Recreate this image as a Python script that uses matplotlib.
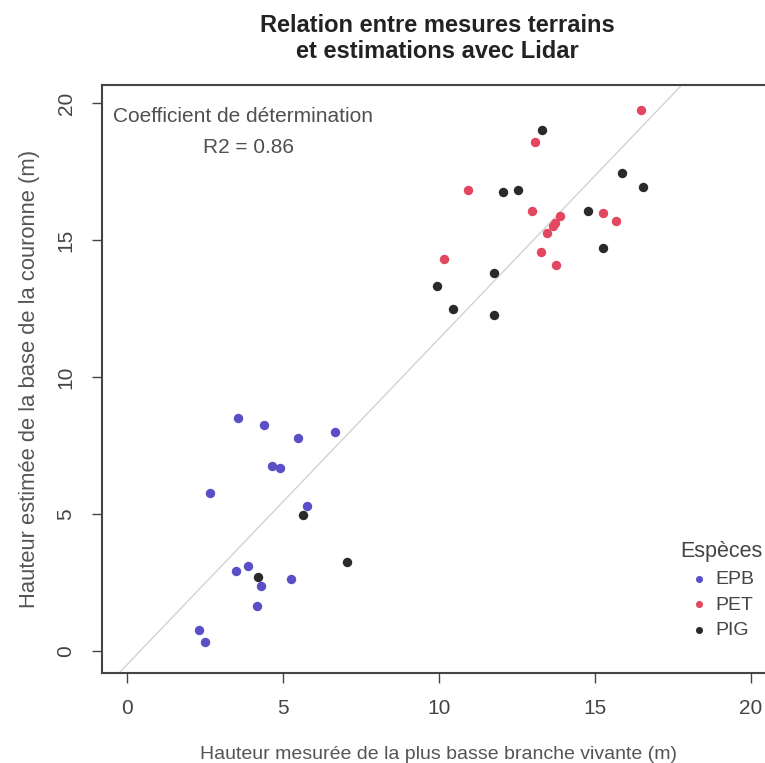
import matplotlib
matplotlib.use("Agg")
import matplotlib.pyplot as plt

plt.rcParams["font.family"] = ["Liberation Sans", "DejaVu Sans"]

# measured (x) vs lidar-estimated (y) crown base height, by species
epb_x = [3.56, 4.40, 5.47, 6.67, 4.64, 4.90, 2.65, 5.78, 3.89, 3.48, 4.29, 5.26, 4.16, 2.31, 2.49]
epb_y = [8.49, 8.26, 7.78, 7.98, 6.75, 6.67, 5.78, 5.30, 3.10, 2.92, 2.38, 2.63, 1.63, 0.76, 0.32]

pet_x = [16.46, 13.08, 10.93, 12.98, 15.25, 15.68, 13.88, 13.71, 13.66, 13.47, 13.27, 13.74, 10.17]
pet_y = [19.76, 18.59, 16.81, 16.07, 16.00, 15.70, 15.89, 15.61, 15.51, 15.24, 14.55, 14.08, 14.30]

pig_x = [5.63, 7.05, 4.20, 13.29, 15.86, 16.55, 12.06, 12.53, 14.77, 15.27, 11.77, 9.93, 10.44, 11.77]
pig_y = [4.96, 3.25, 2.69, 19.03, 17.43, 16.93, 16.74, 16.84, 16.05, 14.70, 13.81, 13.32, 12.48, 12.25]

# fitted line
fit_intercept = -0.5
fit_slope = 1.19
r2 = 0.86

species = ["EPB", "PET", "PIG"]
colors = ["#5a4fc6", "#e2475f", "#2a2a2a"]

fig = plt.figure(figsize=(7.65, 7.63), dpi=100)
ax = fig.add_axes([0.1333, 0.118, 0.881, 0.7706])

for name, xs, ys, c in zip(species, [epb_x, pet_x, pig_x], [epb_y, pet_y, pig_y], colors):
    ax.scatter(xs, ys, s=46, color=c, label=name, linewidths=0, zorder=3)

ax.axline((0, fit_intercept), slope=fit_slope, color="#d2d2d2", lw=1.0, zorder=2)

ax.set_xlim(-0.8, 20.8)
ax.set_ylim(-0.8, 20.66)
ax.set_xticks([0, 5, 10, 15, 20])
ax.set_yticks([0, 5, 10, 15, 20])
ax.tick_params(axis="both", direction="out", length=7, width=1, color="#444444",
               labelsize=15, labelcolor="#444444", pad=12)
for lab in ax.get_yticklabels():
    lab.set_rotation(90)
    lab.set_va("center")
for sp in ax.spines.values():
    sp.set_color("#444444")
    sp.set_linewidth(1.5)

ax.set_xlabel("Hauteur mesurée de la plus basse branche vivante (m)", fontsize=14,
              color="#555555", labelpad=20)
ax.set_ylabel("Hauteur estimée de la base de la couronne (m)", fontsize=15.8,
              color="#555555", labelpad=12)

fig.text(0.572, 0.981, "Relation entre mesures terrains\net estimations avec Lidar",
         ha="center", va="top", fontsize=17, fontweight="bold", color="#222222",
         linespacing=1.15)

ax.text(0.016, 0.963, "Coefficient de détermination", transform=ax.transAxes,
        ha="left", va="top", fontsize=15, color="#505050")
ax.text(0.218, 0.91, f"R2 = {r2:.2f}", transform=ax.transAxes,
        ha="center", va="top", fontsize=15, color="#505050")

leg = fig.legend(title="Espèces", frameon=False, loc="upper right",
                 bbox_to_anchor=(763 / 765, 1 - 541 / 763), fontsize=14, title_fontsize=15.5,
                 handletextpad=0.35, borderpad=0.0, borderaxespad=0.0, labelspacing=0.42,
                 markerscale=0.75, handlelength=1.0)
for t in leg.get_texts():
    t.set_color("#444444")
leg.get_title().set_color("#444444")

fig.savefig("out.png", dpi=100)
